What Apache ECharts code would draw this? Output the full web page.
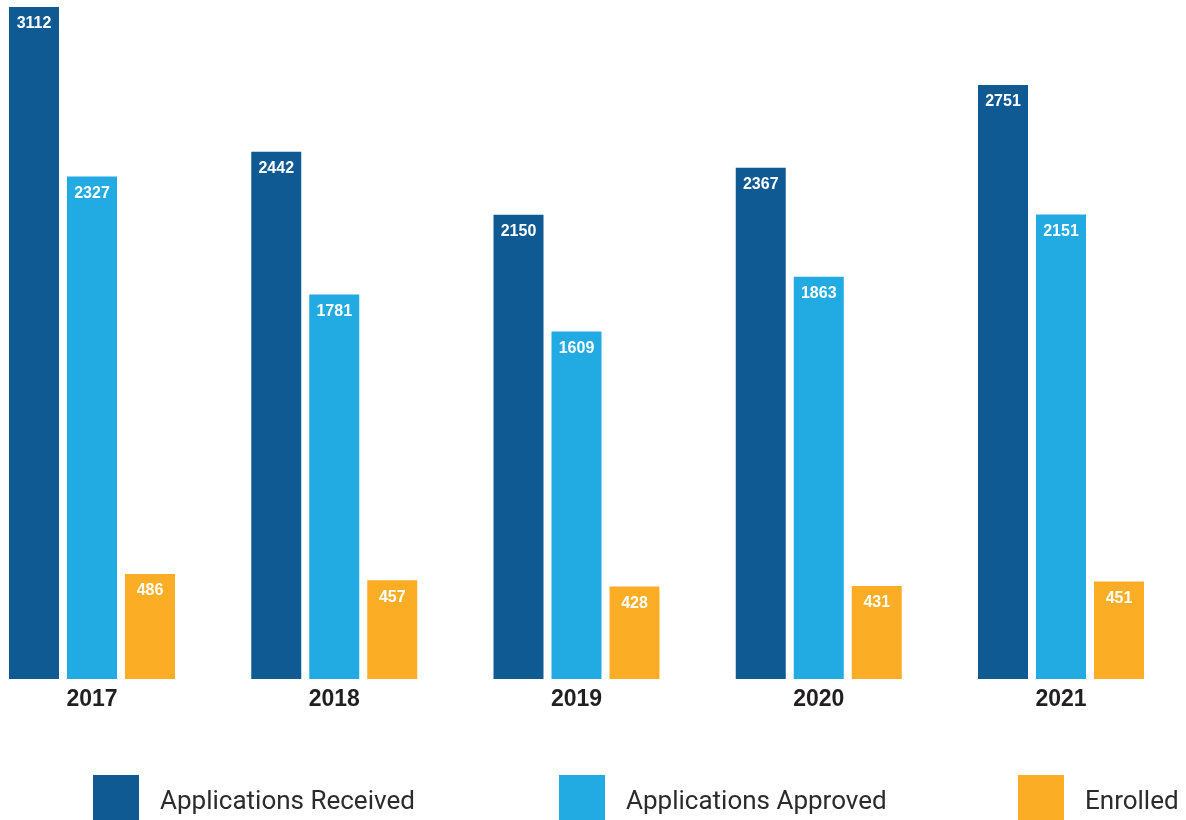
<!DOCTYPE html>
<html>
<head>
<meta charset="utf-8">
<script src="https://cdn.jsdelivr.net/npm/echarts@6/dist/echarts.min.js"></script>
<style>html,body{margin:0;padding:0;background:#fff}#c{width:1186px;height:820px}</style>
</head>
<body>
<div id="c"></div>
<script>
const years = ['2017', '2018', '2019', '2020', '2021'];
const received = [3112, 2442, 2150, 2367, 2751];
const approved = [2327, 1781, 1609, 1863, 2151];
const enrolled = [486, 457, 428, 431, 451];
const seriesNames = ['Applications Received', 'Applications Approved', 'Enrolled'];
const colors = ['#105a94', '#22aae2', '#fbad26'];

const chart = echarts.init(document.getElementById('c'));
const label = {
  show: true, position: 'insideTop', distance: 9, color: '#fff',
  fontFamily: 'Liberation Sans', fontWeight: 'bold', fontSize: 16
};
function legendAt(i, left) {
  return {
    data: [seriesNames[i]], left: left, top: 775, padding: 0, itemWidth: 46, itemHeight: 45,
    icon: 'rect',
    formatter: '{a|{name}}',
    textStyle: {
      padding: [0, 0, 0, 16],
      rich: { a: { fontFamily: 'Roboto', fontSize: 26, color: '#2b2b2b', padding: [10, 0, 0, 0] } }
    }
  };
}
chart.setOption({
  animation: false,
  color: colors,
  grid: { left: 92, right: 125, top: 7, bottom: 141 },
  legend: [legendAt(0, 93), legendAt(1, 559), legendAt(2, 1018)],
  xAxis: {
    type: 'category', data: years, boundaryGap: false,
    axisLine: { show: false }, axisTick: { show: false },
    axisLabel: { margin: 9, color: '#231f20', fontFamily: 'Liberation Sans', fontWeight: 'bold', fontSize: 23 }
  },
  yAxis: {
    type: 'value', min: 0, max: 3112, show: false, splitLine: { show: false }
  },
  series: [
    { name: seriesNames[0], type: 'bar', data: received, barWidth: 50, barGap: '16%', label: label },
    { name: seriesNames[1], type: 'bar', data: approved, barWidth: 50, barGap: '16%', label: label },
    { name: seriesNames[2], type: 'bar', data: enrolled, barWidth: 50, barGap: '16%', label: label }
  ]
});
</script>
</body>
</html>
